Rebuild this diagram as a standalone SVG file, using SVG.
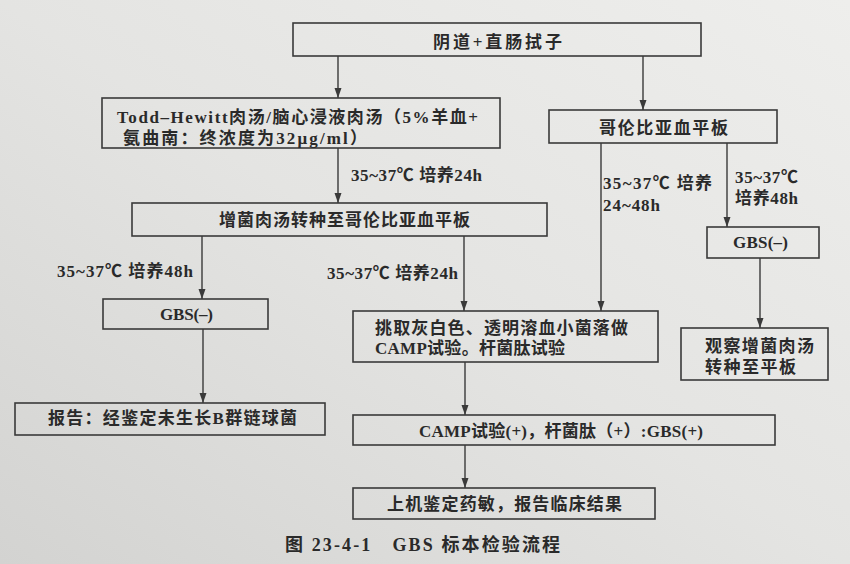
<svg xmlns="http://www.w3.org/2000/svg" width="850" height="564" viewBox="0 0 850 564">
<style>
.bx{fill:none;stroke:#3a3a3a;stroke-width:1.6}
.t{font-family:"Liberation Serif","Noto Sans CJK SC",serif;font-weight:bold;font-size:17px;fill:#2a2a2a}
.cap{font-size:18px}
.c{stroke:#3a3a3a;stroke-width:1.4;fill:none;marker-end:url(#ah)}
</style>
<defs>
<linearGradient id="bg" x1="1" y1="0" x2="0" y2="1">
<stop offset="0" stop-color="#eeeeec"/>
<stop offset="0.5" stop-color="#e4e4e2"/>
<stop offset="1" stop-color="#d3d3d1"/>
</linearGradient>
<marker id="ah" markerUnits="userSpaceOnUse" markerWidth="10" markerHeight="8" refX="10" refY="3.5" orient="auto">
<path d="M0,0 L10,3.5 L0,7 Z" fill="#3a3a3a"/>
</marker>
</defs>
<rect x="0" y="0" width="850" height="564" fill="url(#bg)"/>
<g id="connectors">
<line class="c" x1="338" y1="56" x2="338" y2="98"/>
<line class="c" x1="643" y1="56" x2="643" y2="110"/>
<line class="c" x1="338" y1="148" x2="338" y2="203"/>
<line class="c" x1="601" y1="143" x2="601" y2="311"/>
<line class="c" x1="727" y1="143" x2="727" y2="227"/>
<line class="c" x1="202" y1="236" x2="202" y2="299"/>
<line class="c" x1="464" y1="236" x2="464" y2="311"/>
<line class="c" x1="203" y1="329" x2="203" y2="403"/>
<line class="c" x1="760" y1="258" x2="760" y2="328"/>
<line class="c" x1="465" y1="362" x2="465" y2="415"/>
<line class="c" x1="465" y1="445" x2="465" y2="488"/>
<text class="t" x="351" y="181" textLength="131">35~37℃ 培养24h</text>
<text class="t" x="603" y="189" textLength="109">35~37℃ 培养</text>
<text class="t" x="603" y="211" textLength="57">24~48h</text>
<text class="t" x="735" y="183" textLength="63">35~37℃</text>
<text class="t" x="735" y="204" textLength="63">培养48h</text>
<text class="t" x="57" y="277" textLength="136">35~37℃ 培养48h</text>
<text class="t" x="327" y="279" textLength="131">35~37℃ 培养24h</text>
</g>
<g id="n-swab">
<rect class="bx" x="293" y="23" width="408" height="33"/>
<text class="t" x="433" y="48" textLength="129">阴道+直肠拭子</text>
</g>
<g id="n-todd">
<rect class="bx" x="102" y="98" width="398" height="50"/>
<text class="t" x="117" y="123" textLength="361">Todd–Hewitt肉汤/脑心浸液肉汤（5%羊血+</text>
<text class="t" x="123" y="144" textLength="244">氨曲南：终浓度为32μg/ml）</text>
</g>
<g id="n-columbia">
<rect class="bx" x="549" y="110" width="228" height="33"/>
<text class="t" x="599" y="134" textLength="129">哥伦比亚血平板</text>
</g>
<g id="n-subculture">
<rect class="bx" x="132" y="203" width="415" height="33"/>
<text class="t" x="219" y="226" textLength="251">增菌肉汤转种至哥伦比亚血平板</text>
</g>
<g id="n-gbs-neg-left">
<rect class="bx" x="103" y="299" width="165" height="30"/>
<text class="t" x="160" y="320" textLength="53">GBS(–)</text>
</g>
<g id="n-report-neg">
<rect class="bx" x="15" y="403" width="310" height="32"/>
<text class="t" x="48" y="424" textLength="249">报告：经鉴定未生长B群链球菌</text>
</g>
<g id="n-pick">
<rect class="bx" x="353" y="311" width="305" height="51"/>
<text class="t" x="375" y="334" textLength="253">挑取灰白色、透明溶血小菌落做</text>
<text class="t" x="375" y="354" textLength="190">CAMP试验。杆菌肽试验</text>
</g>
<g id="n-gbs-neg-right">
<rect class="bx" x="707" y="227" width="112" height="31"/>
<text class="t" x="733" y="248" textLength="55">GBS(–)</text>
</g>
<g id="n-observe">
<rect class="bx" x="681" y="328" width="147" height="52"/>
<text class="t" x="705" y="352" textLength="109">观察增菌肉汤</text>
<text class="t" x="705" y="373" textLength="91">转种至平板</text>
</g>
<g id="n-camp-pos">
<rect class="bx" x="353" y="415" width="422" height="30"/>
<text class="t" x="419" y="437" textLength="284">CAMP试验(+)，杆菌肽（+）:GBS(+)</text>
</g>
<g id="n-final">
<rect class="bx" x="353" y="488" width="302" height="31"/>
<text class="t" x="387" y="510" textLength="235">上机鉴定药敏，报告临床结果</text>
</g>
<text class="t cap" x="285" y="551" textLength="275">图 23-4-1　GBS 标本检验流程</text>
</svg>
